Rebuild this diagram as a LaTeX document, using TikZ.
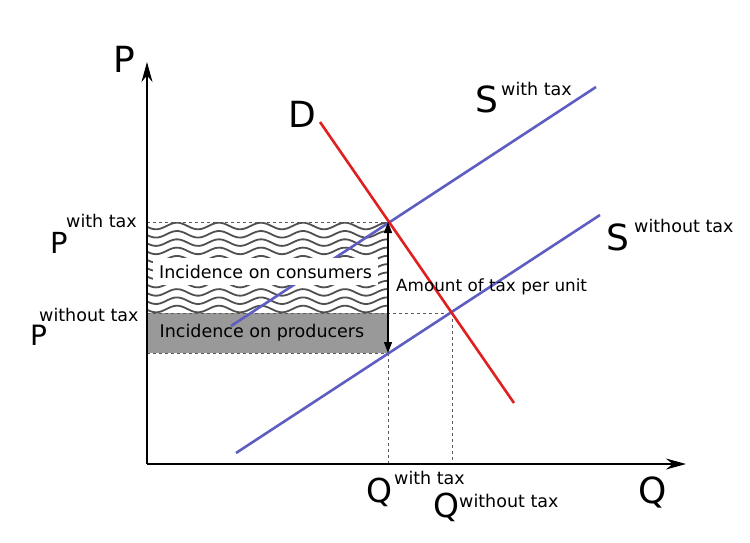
\documentclass[tikz,border=0pt]{standalone}
\usepackage{fontspec}
\setmainfont{DejaVu Sans}
\usetikzlibrary{arrows.meta}
\definecolor{dred}{HTML}{E01F1F}
\definecolor{sblue}{HTML}{5E5EC2}
\definecolor{pgray}{HTML}{999999}
\definecolor{wavec}{HTML}{505050}
\begin{document}
\begin{tikzpicture}[x=1pt,y=-1pt,
  big/.style={font=\fontsize{36}{40}\selectfont, inner sep=0pt, anchor=base west},
  mid/.style={font=\fontsize{30}{34}\selectfont, inner sep=0pt, anchor=base west},
  small/.style={font=\fontsize{17.5}{20}\selectfont, inner sep=0pt, anchor=base west},
  curve/.style={line width=2.6pt},
  guide/.style={dash pattern=on 3pt off 3pt, black!65, line width=1pt},
  axisline/.style={line width=1.3pt, -{Stealth[length=20pt,width=11pt]}},
  taxarrow/.style={line width=1.3pt, {Triangle[length=11pt,width=8pt]}-{Triangle[length=11pt,width=8pt]}},
  wave/.style={wavec, line width=1.8pt},
]
\useasboundingbox (0,0) rectangle (750,542);
% key points
\coordinate (O) at (147,464);
\coordinate (Ytip) at (147,62);
\coordinate (Xtip) at (686,464);
\coordinate (D1) at (320,122);
\coordinate (D2) at (514,403);
\coordinate (SW1) at (231,326);
\coordinate (SW2) at (596,87);
\coordinate (SN1) at (236,453);
\coordinate (SN2) at (600,215);
\coordinate (E1) at (388,222);
\coordinate (E0) at (452,313);
\coordinate (Pp) at (388,353);
\coordinate (L1) at (147,222);
\coordinate (L0) at (147,313);
\coordinate (Lp) at (147,353);
\coordinate (Q1) at (388,464);
\coordinate (Q0) at (452,464);
% producers area
\fill[pgray] (Lp) rectangle (E1 |- L0);
% consumers area waves
\begin{scope}
  \clip (L1) rectangle (L0 -| E1);
  \foreach \yy in {226,234.3,...,313} {
    \draw[wave] plot[domain=140:395, samples=100, smooth] (\x, {\yy - 3.3*cos(8.57*(\x-177))});
  }
\end{scope}
% guides
\draw[guide] (L1) -- (E1);
\draw[guide] (L0) -- (E0);
\draw[guide] (Lp) -- (Pp);
\draw[guide] (Pp) -- (Q1);
\draw[guide] (E0) -- (Q0);
% supply with tax
\draw[sblue, curve] (SW1) -- (SW2);
% label on consumers
\node[fill=white, inner sep=0pt, minimum width=225pt, minimum height=27pt,
      font=\fontsize{17.5}{20}\selectfont] (cons) at (265.5,271.5) {Incidence on consumers};
\node[font=\fontsize{17.5}{20}\selectfont, inner sep=0pt] (prod) at (262,333) {Incidence on producers};
% supply without tax and demand
\draw[sblue, curve] (SN1) -- (SN2);
\draw[dred, curve] (D1) -- (D2);
% tax arrow
\draw[taxarrow] (E1) -- (Pp);
% axes
\draw[axisline] (O) -- (Ytip);
\draw[axisline] (O) -- (Xtip);
% labels
\node[small, font=\fontsize{16.8}{20}\selectfont] (amt) at (396,291) {Amount of tax per unit};
\node[big] (Plab) at (113.5,72) {P};
\node[big] (Qlab) at (638,503) {Q};
\node[big] (Dlab) at (288.5,127) {D};
\node[big] (Sw) at (475,112) {S};
\node[small] (Swsup) at (501,95) {with tax};
\node[big] (Sn) at (606,250) {S};
\node[small] (Snsup) at (634,232) {without tax};
\node[mid, font=\fontsize{29}{32}\selectfont] (Pw) at (50,253) {P};
\node[small] (Pwsup) at (66,227) {with tax};
\node[mid, font=\fontsize{28}{32}\selectfont] (Pn) at (30,345) {P};
\node[small] (Pnsup) at (39,321) {without tax};
\node[mid, font=\fontsize{33}{36}\selectfont] (Qw) at (366,502) {Q};
\node[small] (Qwsup) at (394,484) {with tax};
\node[mid, font=\fontsize{33}{36}\selectfont] (Qn) at (433,517) {Q};
\node[small] (Qnsup) at (459,507) {without tax};
\end{tikzpicture}
\end{document}
